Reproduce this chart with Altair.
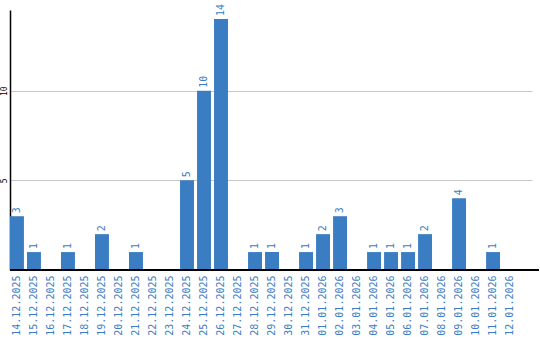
import altair as alt
import pandas as pd

dates = ["14.12.2025", "15.12.2025", "16.12.2025", "17.12.2025", "18.12.2025",
         "19.12.2025", "20.12.2025", "21.12.2025", "22.12.2025", "23.12.2025",
         "24.12.2025", "25.12.2025", "26.12.2025", "27.12.2025", "28.12.2025",
         "29.12.2025", "30.12.2025", "31.12.2025", "01.01.2026", "02.01.2026",
         "03.01.2026", "04.01.2026", "05.01.2026", "06.01.2026", "07.01.2026",
         "08.01.2026", "09.01.2026", "10.01.2026", "11.01.2026", "12.01.2026"]
counts = [3, 1, 0, 1, 0, 2, 0, 1, 0, 0, 5, 10, 14, 0, 1, 1, 0, 1, 2, 3,
          0, 1, 1, 1, 2, 0, 4, 0, 1, 0]

df = pd.DataFrame({"date": dates, "count": counts})

BLUE = "#3b7dc2"
FONT = "DejaVu Sans Mono"

xscale = alt.Scale(domain=dates, paddingInner=0.18, paddingOuter=0.44, align=0)

x = alt.X("date:N", sort=None, title=None, scale=xscale,
          axis=alt.Axis(labelAngle=270, labelAlign="right", labelBaseline="middle",
                        labelColor=BLUE, labelFont=FONT, labelFontSize=10,
                        labelPadding=5, ticks=False, domain=False, grid=False))
y = alt.Y("count:Q", title=None,
          scale=alt.Scale(domain=[0, 14.5], nice=False),
          axis=alt.Axis(values=[5, 10], labelAngle=270, labelAlign="center",
                        labelBaseline="bottom", labelFont=FONT, labelFontSize=8,
                        labelColor="#000000", labelPadding=2, ticks=False,
                        domainColor="#000000", domainWidth=1.5,
                        gridColor="#c8c8c8", gridWidth=1))

base = alt.Chart(df).transform_filter("datum.count > 0")

bars = base.mark_bar(color=BLUE).encode(x=x, y=y)
labels = base.mark_text(angle=270, align="left", baseline="middle", dx=3,
                        font=FONT, fontSize=10, color=BLUE).encode(
    x=alt.X("date:N", sort=None, scale=xscale), y="count:Q", text="count:Q")

baseline = alt.Chart(df).mark_rule(color="#000000", strokeWidth=1.5).encode(
    x=alt.value(0), x2=alt.value(529), y=alt.value(260))

chart = alt.layer(bars, labels, baseline).properties(
    width=522, height=260,
    autosize=alt.AutoSizeParams(type="none"),
    padding={"left": 10, "top": 10, "right": 8, "bottom": 70},
    background="#ffffff",
).configure_view(stroke=None)

chart.save("out.html", embed_options={"renderer": "svg", "actions": False})
